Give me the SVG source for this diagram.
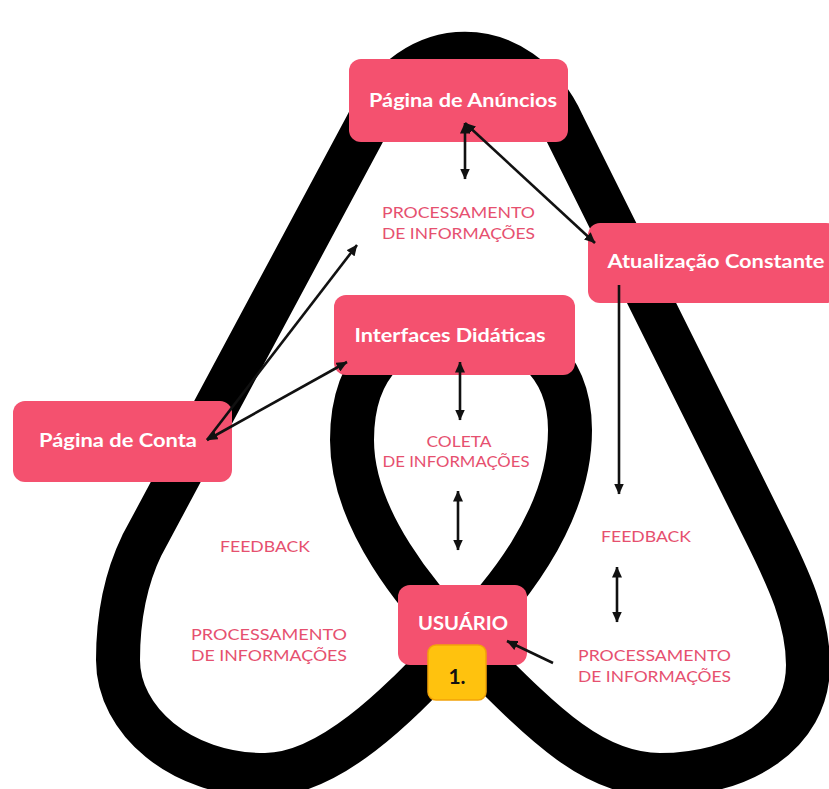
<svg xmlns="http://www.w3.org/2000/svg" width="829" height="789" viewBox="0 0 829 789">
  <style>
    .loop { fill: none; stroke: #000; stroke-width: 44; stroke-linejoin: round; }
    .box { fill: #F4516F; }
    .badge { fill: #FFC20E; stroke: #F2A20A; stroke-width: 1.5; }
    .title { font-family: "Lato", "Liberation Sans", sans-serif; font-weight: 700; font-size: 19px; fill: #fff; text-anchor: middle; }
    .num { font-family: "Lato", "Liberation Sans", sans-serif; font-weight: 700; font-size: 21px; fill: #111; text-anchor: middle; }
    .lbl { font-family: "Lato", "Liberation Sans", sans-serif; font-size: 15px; fill: #E6506F; }
    .lblc { font-family: "Lato", "Liberation Sans", sans-serif; font-size: 15px; fill: #E6506F; text-anchor: middle; }
    .link { fill: none; stroke: #111; stroke-width: 2.6; }
  </style>
  <defs>
    <marker id="head" viewBox="0 0 11 10" refX="10.5" refY="5" markerWidth="11" markerHeight="10" markerUnits="userSpaceOnUse" orient="auto-start-reverse">
      <path d="M0,0 L11,5 L0,10 z" fill="#111"/>
    </marker>
  </defs>

  <rect width="829" height="789" fill="#fff"/>

  <!-- background emblem: one closed thick loop -->
  <path class="loop" d="M 367 125
    C 410 30, 520 30, 563 125
    L 764 529
    C 789 579, 808 620, 808 665
    C 808 735, 740 775, 660 775
    C 590 775, 540 720, 460 640
    C 420 600, 352 520, 352 440
    C 352 360, 400 325, 460 325
    C 520 325, 570 360, 570 430
    C 570 520, 500 600, 460 640
    C 420 680, 340 775, 265 775
    C 180 775, 118 720, 118 660
    C 118 620, 125 580, 142 545
    Z"/>

  <!-- nodes -->
  <g id="pagina-anuncios">
    <rect class="box" x="349" y="59" width="219" height="83" rx="12"/>
    <text class="title" x="463" y="107" textLength="188" lengthAdjust="spacingAndGlyphs">Página de Anúncios</text>
  </g>
  <g id="atualizacao-constante">
    <rect class="box" x="588" y="223" width="250" height="80" rx="12"/>
    <text class="title" x="716" y="268" textLength="217" lengthAdjust="spacingAndGlyphs">Atualização Constante</text>
  </g>
  <g id="pagina-conta">
    <rect class="box" x="13" y="401" width="219" height="81" rx="12"/>
    <text class="title" x="118" y="447" textLength="158" lengthAdjust="spacingAndGlyphs">Página de Conta</text>
  </g>
  <g id="interfaces-didaticas">
    <rect class="box" x="334" y="295" width="241" height="80" rx="12"/>
    <text class="title" x="450" y="342" textLength="191" lengthAdjust="spacingAndGlyphs">Interfaces Didáticas</text>
  </g>
  <g id="usuario">
    <rect class="box" x="398" y="585" width="129" height="80" rx="12"/>
    <text class="title" x="463" y="630" textLength="90" lengthAdjust="spacingAndGlyphs">USUÁRIO</text>
  </g>
  <g id="passo-1">
    <rect class="badge" x="428" y="645" width="58" height="55" rx="8"/>
    <text class="num" x="457" y="684">1.</text>
  </g>

  <!-- labels -->
  <g id="rotulos">
    <text class="lbl" x="382" y="218" textLength="153" lengthAdjust="spacingAndGlyphs">PROCESSAMENTO</text>
    <text class="lbl" x="382" y="239" textLength="153" lengthAdjust="spacingAndGlyphs">DE INFORMAÇÕES</text>
    <text class="lblc" x="459" y="447" textLength="65" lengthAdjust="spacingAndGlyphs">COLETA</text>
    <text class="lblc" x="456" y="467" textLength="147" lengthAdjust="spacingAndGlyphs">DE INFORMAÇÕES</text>
    <text class="lbl" x="220" y="552" textLength="90" lengthAdjust="spacingAndGlyphs">FEEDBACK</text>
    <text class="lbl" x="191" y="640" textLength="156" lengthAdjust="spacingAndGlyphs">PROCESSAMENTO</text>
    <text class="lbl" x="191" y="661" textLength="156" lengthAdjust="spacingAndGlyphs">DE INFORMAÇÕES</text>
    <text class="lbl" x="601" y="542" textLength="90" lengthAdjust="spacingAndGlyphs">FEEDBACK</text>
    <text class="lbl" x="578" y="661" textLength="153" lengthAdjust="spacingAndGlyphs">PROCESSAMENTO</text>
    <text class="lbl" x="578" y="682" textLength="153" lengthAdjust="spacingAndGlyphs">DE INFORMAÇÕES</text>
  </g>

  <!-- connectors -->
  <g id="conectores">
    <line class="link" x1="465" y1="123" x2="465" y2="179" marker-start="url(#head)" marker-end="url(#head)"/>
    <line class="link" x1="465" y1="123" x2="595" y2="243" marker-start="url(#head)" marker-end="url(#head)"/>
    <line class="link" x1="619" y1="285" x2="619" y2="494" marker-end="url(#head)"/>
    <line class="link" x1="617" y1="567" x2="617" y2="622" marker-start="url(#head)" marker-end="url(#head)"/>
    <line class="link" x1="553" y1="663" x2="507" y2="641" marker-end="url(#head)"/>
    <line class="link" x1="460" y1="362" x2="460" y2="420" marker-start="url(#head)" marker-end="url(#head)"/>
    <line class="link" x1="458" y1="491" x2="458" y2="550" marker-start="url(#head)" marker-end="url(#head)"/>
    <line class="link" x1="207" y1="440" x2="347" y2="362" marker-start="url(#head)" marker-end="url(#head)"/>
    <line class="link" x1="207" y1="440" x2="357" y2="245" marker-end="url(#head)"/>
  </g>
</svg>
